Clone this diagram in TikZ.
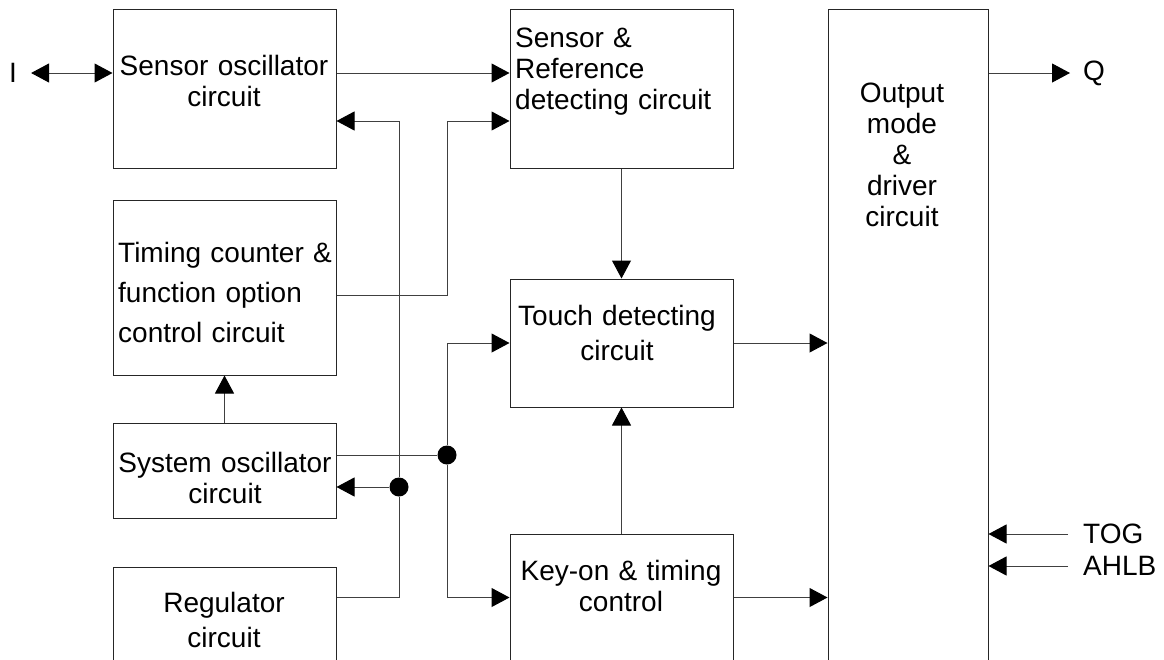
\documentclass[tikz,border=0pt]{standalone}
\usepackage{fontspec}
\setmainfont{Liberation Sans}
\usetikzlibrary{arrows.meta}

\tikzset{
  blk/.style 2 args={draw=black!85, line width=1pt, inner sep=0pt,
    minimum width=#1, minimum height=#2},
  txt/.style={anchor=base, align=center, text width=#1, inner sep=0pt},
  txt/.default=220pt,
  ltxt/.style={txt=215pt, anchor=base west, align=left},
  term/.style={anchor=west, inner sep=0pt},
  wire/.style={draw=black!75, line width=1pt},
  dot/.style={circle, fill=black, inner sep=0pt, minimum size=19pt},
}

\begin{document}
\begin{tikzpicture}[x=1pt, y=-1pt, font=\fontsize{28}{31}\selectfont,
    >={Triangle[length=18pt,width=19pt,color=black,fill=black]}]
  \useasboundingbox (0,0) rectangle (1164,659);
  \clip (0,0) rectangle (1164,659);

  % blocks
  \node[blk={223pt}{159pt}] (sosc)   at (224.5,88.5) {};
  \node[blk={223pt}{175pt}] (timing) at (224.5,287.5) {};
  \node[blk={223pt}{95pt}]  (sysosc) at (224.5,470.5) {};
  \node[blk={223pt}{140pt}] (reg)    at (224.5,637) {};
  \node[blk={223pt}{159pt}] (sref)   at (621.5,88.5) {};
  \node[blk={223pt}{128pt}] (touch)  at (621.5,343) {};
  \node[blk={223pt}{127pt}] (kon)    at (621.5,597.5) {};
  \node[blk={160pt}{691pt}] (out)    at (908,354.5) {};

  % block texts
  \node[txt]  (sosc-t)   at (224,75)  {Sensor oscillator\\circuit};
  \node[ltxt] (timing-t) at (118,262) {Timing counter \&\\[9pt]function option\\[9pt]control circuit};
  \node[txt]  (sysosc-t) at (225,472) {System oscillator\\circuit};
  \node[txt]  (reg-t)    at (224,612) {Regulator\\[4pt]circuit};
  \node[ltxt] (sref-t)   at (515,47)  {Sensor \&\\Reference\\detecting circuit};
  \node[txt]  (touch-t)  at (617,325) {Touch detecting\\[4pt]circuit};
  \node[txt]  (kon-t)    at (621,580) {Key-on \& timing\\control};
  \node[txt=150pt] (out-t) at (902,102) {Output\\mode\\\&\\driver\\circuit};

  % terminals
  \node[inner sep=0pt] (i) at (13,73) {I};
  \node[term] (q)    at (1083,73)  {Q};
  \node[term] (tog)  at (1083,534) {TOG};
  \node[term] (ahlb) at (1083,566) {AHLB};

  % junctions and ports
  \node[dot] (j1) at (399,487) {};
  \node[dot] (j2) at (447,455) {};
  \coordinate (sosc-in) at ([yshift=-32.5pt]sosc.east);
  \coordinate (sref-in) at ([yshift=-32.5pt]sref.west);

  \begin{scope}[wire]
    \draw[<->, shorten <=14pt] (i) -- (sosc.west |- i);
    \draw[->, shorten >=13pt] (out.east |- q) -- (q);
    \draw[->] (sosc.east |- i) -- (sref.west |- i);
    \draw[->, shorten <=15pt] (tog) -- (out.east |- tog);
    \draw[->, shorten <=15pt] (ahlb) -- (out.east |- ahlb);
    \draw[->] (sref) -- (touch);
    \draw[->] (kon) -- (touch);
    \draw[->] (sysosc) -- (timing);
    \draw[->] (touch) -- (out.west |- touch);
    \draw[->] (kon) -- (out.west |- kon);
    \draw[->] (reg.east |- kon) -| (j1) |- (sosc-in);
    \draw[->] (j1) -- (sysosc.east |- j1);
    \draw (sysosc.east |- j2) -- (j2);
    \draw[->] (j2) |- (touch);
    \draw[->] (j2) |- (kon);
    \draw[->] ([yshift=-7.5pt]timing.east) -| (sref-in -| j2) -- (sref-in);
  \end{scope}
\end{tikzpicture}
\end{document}
